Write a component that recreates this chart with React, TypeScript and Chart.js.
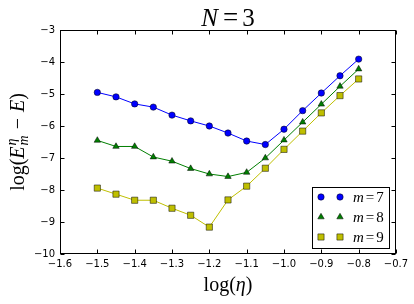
import React, { useEffect, useRef } from 'react';
import { Chart, registerables } from 'chart.js';

Chart.register(...registerables);

// ---- data ----
const logEta = [-1.5, -1.45, -1.4, -1.35, -1.3, -1.25, -1.2, -1.15, -1.1, -1.05, -1.0, -0.95, -0.9, -0.85, -0.8];
const m7 = [-4.95, -5.09, -5.31, -5.41, -5.66, -5.84, -6.0, -6.22, -6.47, -6.58, -6.1, -5.52, -4.97, -4.43, -3.91];
const m8 = [-6.45, -6.64, -6.64, -6.97, -7.1, -7.33, -7.5, -7.58, -7.45, -7.0, -6.44, -5.88, -5.32, -4.76, -4.22];
const m9 = [-7.94, -8.13, -8.32, -8.32, -8.57, -8.79, -9.16, -8.31, -7.88, -7.32, -6.73, -6.16, -5.59, -5.05, -4.53];
const mValues = ['7', '8', '9'];
const xMin = -1.6, xMax = -0.7, xStep = 0.1;
const yMin = -10, yMax = -3, yStep = 1;

const BLUE = '#0000ff';
const GREEN = '#007f00';
const YELLOW = '#bfbf00';
const SERIF = '"Liberation Serif", "Times New Roman", serif';
const SANS = '"DejaVu Sans", sans-serif';

type Part = { t: string; it?: boolean; sz: number; dy?: number; gap?: number; stack?: boolean };

const fontOf = (p: Part) => `${p.it ? 'italic ' : ''}${p.sz}px ${SERIF}`;

function layoutParts(ctx: CanvasRenderingContext2D, parts: Part[]) {
  let x = 0;
  let pending = 0;
  const items: { p: Part; x: number }[] = [];
  for (const p of parts) {
    ctx.font = fontOf(p);
    const w = ctx.measureText(p.t).width;
    x += p.gap || 0;
    items.push({ p, x });
    if (p.stack) pending = Math.max(pending, w);
    else {
      x += Math.max(w, pending);
      pending = 0;
    }
  }
  return { items, width: x };
}

function drawRich(ctx: CanvasRenderingContext2D, parts: Part[], cx: number, by: number, rot = 0) {
  const { items, width } = layoutParts(ctx, parts);
  ctx.save();
  ctx.translate(cx, by);
  if (rot) ctx.rotate(rot);
  ctx.fillStyle = '#000';
  ctx.textBaseline = 'alphabetic';
  ctx.textAlign = 'left';
  for (const it of items) {
    ctx.font = fontOf(it.p);
    ctx.fillText(it.p.t, it.x - width / 2, it.p.dy || 0);
  }
  ctx.restore();
}

function drawMarker(ctx: CanvasRenderingContext2D, kind: string, x: number, y: number, color: string) {
  ctx.save();
  ctx.fillStyle = color;
  ctx.strokeStyle = '#000';
  ctx.lineWidth = 0.5;
  ctx.beginPath();
  if (kind === 'circle') {
    ctx.arc(x, y, 3.2, 0, Math.PI * 2);
  } else if (kind === 'triangle') {
    const r = 3.7;
    ctx.moveTo(x, y - r);
    ctx.lineTo(x - r * Math.sin(Math.PI / 3), y + r / 2);
    ctx.lineTo(x + r * Math.sin(Math.PI / 3), y + r / 2);
    ctx.closePath();
  } else {
    ctx.rect(x - 3.1, y - 3.1, 6.2, 6.2);
  }
  ctx.fill();
  ctx.stroke();
  ctx.restore();
}

const decorPlugin = {
  id: 'decor',
  afterDraw(chart: any) {
    const ctx: CanvasRenderingContext2D = chart.ctx;
    const { left, right, top, bottom } = chart.chartArea;
    const L = Math.round(left) + 0.5;
    const R = Math.round(right) - 0.5;
    const T = Math.round(top) + 0.5;
    const B = Math.round(bottom) - 0.5;
    ctx.save();
    ctx.strokeStyle = '#000';
    ctx.lineWidth = 1;
    // inward ticks
    const xs = chart.scales.x;
    const ys = chart.scales.y;
    ctx.beginPath();
    xs.ticks.forEach((t: any) => {
      const px = Math.round(xs.getPixelForValue(t.value)) + 0.5;
      ctx.moveTo(px, B);
      ctx.lineTo(px, B - 4);
      ctx.moveTo(px, T);
      ctx.lineTo(px, T + 4);
    });
    ys.ticks.forEach((t: any) => {
      const py = Math.round(ys.getPixelForValue(t.value)) + 0.5;
      ctx.moveTo(L, py);
      ctx.lineTo(L + 4, py);
      ctx.moveTo(R, py);
      ctx.lineTo(R - 4, py);
    });
    ctx.stroke();
    ctx.strokeRect(L, T, R - L, B - T);

    // legend
    const bx = 312.5, by = 187.5, bw = 77, bh = 61;
    ctx.fillStyle = '#fff';
    ctx.fillRect(bx, by, bw, bh);
    ctx.strokeRect(bx, by, bw, bh);
    const kinds = ['circle', 'triangle', 'rect'];
    const colors = [BLUE, GREEN, YELLOW];
    const rowY = [197, 217, 237];
    kinds.forEach((k, i) => {
      drawMarker(ctx, k, 321, rowY[i], colors[i]);
      drawMarker(ctx, k, 340, rowY[i], colors[i]);
      const parts: Part[] = [
        { t: 'm', it: true, sz: 15 },
        { t: '=', sz: 15, gap: 2 },
        { t: mValues[i], sz: 15, gap: 2 },
      ];
      const { width } = layoutParts(ctx, parts);
      drawRich(ctx, parts, 353 + width / 2, rowY[i] + 5);
    });
    ctx.restore();

    // title
    drawRich(ctx, [
      { t: 'N', it: true, sz: 25 },
      { t: '=', sz: 27, gap: 5 },
      { t: '3', sz: 25, gap: 4 },
    ], (left + right) / 2, 26);

    // x label
    drawRich(ctx, [
      { t: 'log(', sz: 20 },
      { t: 'η', it: true, sz: 20 },
      { t: ')', sz: 20 },
    ], (left + right) / 2, 291);

    // y label
    drawRich(ctx, [
      { t: 'log(', sz: 20 },
      { t: 'E', it: true, sz: 20 },
      { t: 'η', it: true, sz: 14, dy: -8, gap: 1, stack: true },
      { t: 'm', it: true, sz: 14, dy: 4 },
      { t: '−', sz: 20, gap: 6 },
      { t: 'E', it: true, sz: 20, gap: 6 },
      { t: ')', sz: 20 },
    ], 24, (top + bottom) / 2, -Math.PI / 2);
  },
};

const toPts = (ys: number[]) => logEta.map((x, i) => ({ x, y: ys[i] }));
const fmtMinus = (v: number, d: number) => (v < 0 ? '\u2212' : '') + Math.abs(v).toFixed(d);

export default function App() {
  const ref = useRef<HTMLCanvasElement | null>(null);
  useEffect(() => {
    if (!ref.current) return;
    const chart = new Chart(ref.current, {
      type: 'line',
      data: {
        datasets: [
          {
            label: 'm = 7', data: toPts(m7), borderColor: BLUE, backgroundColor: BLUE, borderWidth: 1,
            pointStyle: 'circle', pointRadius: 3.2, pointBorderColor: '#000', pointBorderWidth: 0.5,
            pointBackgroundColor: BLUE, order: 2,
          },
          {
            label: 'm = 8', data: toPts(m8), borderColor: GREEN, backgroundColor: GREEN, borderWidth: 1,
            pointStyle: 'triangle', pointRadius: 3.7, pointBorderColor: '#000', pointBorderWidth: 0.5,
            pointBackgroundColor: GREEN, order: 1,
          },
          {
            label: 'm = 9', data: toPts(m9), borderColor: YELLOW, backgroundColor: YELLOW, borderWidth: 1,
            pointStyle: 'rect', pointRadius: 4.4, pointBorderColor: '#000', pointBorderWidth: 0.5,
            pointBackgroundColor: YELLOW, order: 0,
          },
        ],
      },
      options: {
        animation: false,
        responsive: false,
        devicePixelRatio: 1,
        layout: { padding: { left: 0, right: 18, top: 30, bottom: 0 } },
        plugins: { legend: { display: false }, tooltip: { enabled: false }, title: { display: false } },
        elements: { line: { tension: 0 } },
        scales: {
          x: {
            type: 'linear', min: xMin, max: xMax,
            grid: { display: false, drawTicks: false },
            border: { display: false },
            ticks: {
              stepSize: xStep, autoSkip: false, maxRotation: 0, padding: 4, color: '#000',
              font: { family: SANS, size: 10 },
              callback: (v: any) => fmtMinus(Number(v), 1),
            },
            afterFit: (s: any) => { s.height = 50; },
          },
          y: {
            type: 'linear', min: yMin, max: yMax,
            grid: { display: false, drawTicks: false },
            border: { display: false },
            ticks: {
              stepSize: yStep, autoSkip: false, padding: 5, color: '#000',
              font: { family: SANS, size: 10 },
              callback: (v: any) => fmtMinus(Number(v), 0),
            },
            afterFit: (s: any) => { s.width = 60; },
          },
        },
      },
      plugins: [decorPlugin],
    } as any);
    return () => chart.destroy();
  }, []);
  return (
    <div style={{ position: 'absolute', left: 0, top: 0, width: 414, height: 304, background: '#fff' }}>
      <canvas ref={ref} width={414} height={304} style={{ display: 'block' }} />
    </div>
  );
}
